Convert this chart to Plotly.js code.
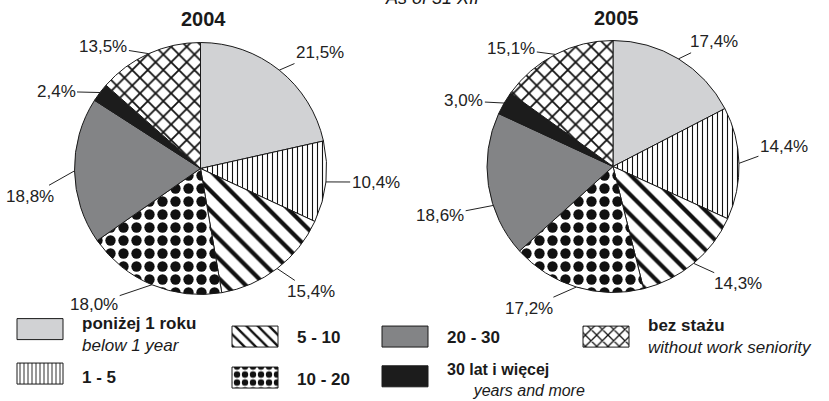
<!DOCTYPE html>
<html><head><meta charset="utf-8">
<script src="https://cdn.plot.ly/plotly-3.0.1.min.js"></script>
<style>html,body{margin:0;padding:0;background:#fff}#chart{width:829px;height:401px}</style>
</head><body><div id="chart"></div>
<script>
// ---- data ----
const categoriesPl = ['poniżej 1 roku', '1 - 5', '5 - 10', '10 - 20', '20 - 30', '30 lat i więcej', 'bez stażu'];
const categoriesEn = ['below 1 year', '', '', '', '', 'years and more', 'without work seniority'];
const values2004 = [21.5, 10.4, 15.4, 18.0, 18.8, 2.4, 13.5];
const values2005 = [17.4, 14.4, 14.3, 17.2, 18.6, 3.0, 15.1];
const yearTitles = ['2004', '2005'];
const subtitle = 'As of 31 XII';

// ---- styles ----
const W = 829, H = 401;
const FONT = 'Liberation Sans, Arial, Helvetica, sans-serif';
const fillColors = ['#d1d2d4', '#ffffff', '#ffffff', '#ffffff', '#838486', '#1c1c1c', '#ffffff'];
const patternShapes = ['', '|', '\\', '.', '', '', 'x'];
const patternSizes = [8, 5, 14, 13, 8, 8, 11];
const patternSolidity = [0.3, 0.22, 0.3, 0.5, 0.3, 0.3, 0.3];
const fmt = v => v.toFixed(1).replace('.', ',') + '%';

// pie geometry (pixels) and label placement tweaks (leader attach fraction, text offsets in px)
const pies = [
  {values: values2004, cx: 200.5, cy: 168.5, r: 126,
   frac: [0.5, 0.5, 0.5, 0.5, 0.5, 0.5, 0.5],
   offs: [[3, -2], [5, -2], [-3, 7], [-25, 1], [0, 25], [-3, 11], [-12, 11]]},
  {values: values2005, cx: 613, cy: 166.5, r: 126,
   frac: [0.5, 0.5, 0.5, 0.5, 0.36, 0.5, 0.5],
   offs: [[0, 0], [0, -16], [7, 5], [-17, 2], [-9, 4], [2, 8], [-10, 12]]}
];

const traces = [];
const annotations = [];
pies.forEach(p => {
  traces.push({
    type: 'pie', values: p.values, labels: categoriesPl,
    textinfo: 'none', sort: false, direction: 'clockwise', rotation: 0,
    domain: {x: [(p.cx - p.r) / W, (p.cx + p.r) / W], y: [(H - p.cy - p.r) / H, (H - p.cy + p.r) / H]},
    showlegend: false, hoverinfo: 'none',
    marker: {
      colors: fillColors,
      line: {color: '#1a1a1a', width: 1},
      pattern: {shape: patternShapes, fgcolor: '#111', bgcolor: fillColors,
                size: patternSizes, solidity: patternSolidity}
    }
  });
  // percentage labels with leader lines, attached to each slice's edge
  const total = p.values.reduce((a, b) => a + b, 0);
  let cum = 0;
  p.values.forEach((v, i) => {
    const th = (cum + v * p.frac[i]) / total * 2 * Math.PI;
    cum += v;
    const s = Math.sin(th), c = Math.cos(th);
    const L = 20, hw = 25;
    annotations.push({
      text: fmt(v), xref: 'paper', yref: 'paper',
      x: (p.cx + p.r * s) / W, y: (H - p.cy + p.r * c) / H,
      ax: s * L + (s >= 0 ? hw : -hw) + p.offs[i][0], ay: -c * L + p.offs[i][1],
      showarrow: true, arrowhead: 0, arrowwidth: 1, arrowcolor: '#222', standoff: 0,
      font: {family: FONT, size: 17, color: '#222'}
    });
  });
});

const legendIds = ['legend', 'legend2', 'legend3', 'legend4', 'legend5', 'legend6', 'legend7'];
const legendPos = [[2, 334], [2, 377], [217, 337], [217, 379], [367, 337], [367, 379.5], [568, 335.5]];
const legendFontSize = [17, 17, 17, 17, 17, 16, 17];
const symbolDy = [-4.5, -3, 0, -1, 0, -3, 1.5];

categoriesPl.forEach((pl, i) => {
  let name = '<b>' + pl + '</b>';
  if (categoriesEn[i]) {
    name += '<br>' + (i === 5 ? '&nbsp;&nbsp;&nbsp;&nbsp;&nbsp;&nbsp;' : '') + '<i>' + categoriesEn[i] + '</i>';
  }
  // legend-only swatch entry (no visible bar: value is null)
  traces.push({
    type: 'bar', x: [pl], y: [null], name: name, legend: legendIds[i], showlegend: true, hoverinfo: 'none',
    marker: {color: fillColors[i], line: {color: '#1a1a1a', width: 1},
             pattern: {shape: patternShapes[i], fgcolor: '#111', bgcolor: fillColors[i],
                       size: patternSizes[i], solidity: patternSolidity[i]}}
  });
});

annotations.push(
  {text: '<b>' + yearTitles[0] + '</b>', x: 203 / W, y: 1 - 19 / H, xref: 'paper', yref: 'paper',
   showarrow: false, font: {family: FONT, size: 20, color: '#1a1a1a'}, xanchor: 'center', yanchor: 'middle'},
  {text: '<b>' + yearTitles[1] + '</b>', x: 616 / W, y: 1 - 18 / H, xref: 'paper', yref: 'paper',
   showarrow: false, font: {family: FONT, size: 20, color: '#1a1a1a'}, xanchor: 'center', yanchor: 'middle'},
  {text: '<i>' + subtitle + '</i>', x: 432 / W, y: 1, xref: 'paper', yref: 'paper', yshift: 2,
   showarrow: false, font: {family: FONT, size: 18, color: '#1a1a1a'}, xanchor: 'center', yanchor: 'middle'}
);

const layout = {
  width: W, height: H, margin: {l: 0, r: 0, t: 0, b: 0, autoexpand: false},
  paper_bgcolor: '#fff', plot_bgcolor: 'rgba(0,0,0,0)',
  showlegend: true,
  font: {family: FONT, color: '#1a1a1a'},
  xaxis: {visible: false, fixedrange: true, domain: [0, 0.01]},
  yaxis: {visible: false, fixedrange: true, range: [1, 2], domain: [0, 0.01]},
  annotations: annotations
};
legendIds.forEach((id, i) => {
  layout[id] = {
    x: legendPos[i][0] / W, y: 1 - legendPos[i][1] / H, xanchor: 'left', yanchor: 'middle',
    bgcolor: 'rgba(0,0,0,0)', borderwidth: 0, itemwidth: 70, valign: 'middle',
    font: {family: FONT, size: legendFontSize[i], color: '#1a1a1a'}, itemclick: false, itemdoubleclick: false
  };
});

Plotly.newPlot('chart', traces, layout, {staticPlot: true, displayModeBar: false}).then(gd => {
  legendIds.forEach((id, i) => {
    const g = gd.querySelector('g.' + id);
    if (!g) return;
    g.querySelectorAll('.legendpoints path').forEach(p => {
      const dy = symbolDy[i];
      p.setAttribute('d', 'M-25,' + (-10.5 + dy) + 'H21V' + (10.5 + dy) + 'H-25Z');
    });
  });
});
</script>
</body></html>
